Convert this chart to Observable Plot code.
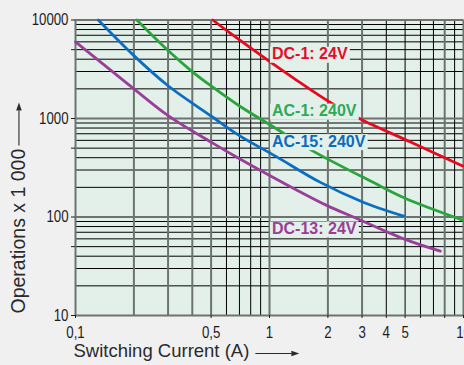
<!DOCTYPE html>
<html><head><meta charset="utf-8">
<script src="https://cdn.jsdelivr.net/npm/d3@7"></script>
<script src="https://cdn.jsdelivr.net/npm/@observablehq/plot@0.6"></script>
<style>
html,body{margin:0;padding:0;background:#f0f0f0;overflow:hidden;}
</style></head><body><div id="chart"></div>
<script>
// Axis ticks and grid values
const xTicks = [0.1, 0.5, 1, 2, 3, 4, 5, 6, 8, 10];
const yTicks = [10, 50, 100, 500, 1000, 5000, 10000];
const xGridMajor = [0.1, 0.2, 0.3, 0.4, 0.5, 1, 2, 3, 8, 10];
const xGridMinor = [0.6, 0.7, 0.8, 0.9, 4, 5, 6, 7, 9];
const yGridMajor = [10, 100, 1000, 10000];
const yGridMinor = [20, 30, 40, 50, 60, 70, 80, 90, 200, 300, 400, 500, 600, 700, 800, 900,
                    2000, 3000, 4000, 5000, 6000, 7000, 8000, 9000];

// Series
const seriesNames = ["DC-1: 24V", "AC-1: 240V", "AC-15: 240V", "DC-13: 24V"];
const lineColors = ["#e8081f", "#2aa43c", "#0a6ec2", "#9a3f98"];
const labelColors = ["#e30d2a", "#2ea95a", "#0b6cbd", "#9a3d96"];

const dc1Current = [0.51, 0.63, 1, 1.4, 2.1, 2.9, 5.3, 9.9];
const dc1Ops     = [10000, 7300, 3800, 2400, 1420, 1000, 580, 330];
const ac1Current = [0.207, 0.3, 0.395, 0.5, 0.7, 1.04, 1.65, 3.4, 5, 9.9];
const ac1Ops     = [10000, 4900, 3050, 2140, 1340, 830, 475, 226, 155, 93];
const ac15Current = [0.131, 0.2, 0.3, 0.5, 0.7, 1.09, 1.82, 3, 4.92];
const ac15Ops     = [10000, 4350, 2150, 1060, 670, 408, 226, 143, 102];
const dc13Current = [0.1, 0.2, 0.3, 0.5, 0.7, 1.13, 1.96, 2.8, 4.92, 7.6];
const dc13Ops     = [6000, 2000, 1070, 575, 390, 232, 132, 97, 60, 45];

const labelCurrent = [1.03, 1.03, 1.03, 1.03];
const labelOps = [4500, 1190, 584, 76];

const xTitle = "Switching Current (A)";
const yTitle = "Operations x 1 000";

const currents = [dc1Current, ac1Current, ac15Current, dc13Current];
const ops = [dc1Ops, ac1Ops, ac15Ops, dc13Ops];

const bg = "#e3f0e9";
const sans = "'Liberation Sans', Arial, sans-serif";

const lineMarks = currents.map((xs, i) =>
  Plot.line(xs.map((x, j) => ({x, y: ops[i][j]})), {
    x: "x", y: "y", stroke: lineColors[i], strokeWidth: 2.8, curve: "catmull-rom"
  })
);

const labels = seriesNames.map((name, i) => ({name, x: labelCurrent[i], y: labelOps[i], c: labelColors[i]}));

const plot = Plot.plot({
  width: 464,
  height: 365,
  marginLeft: 75,
  marginRight: 1,
  marginTop: 19.5,
  marginBottom: 50,
  style: {background: "#f0f0f0", fontFamily: sans, fontSize: "16px", color: "#1e1e1e"},
  x: {type: "log", domain: [0.1, 10]},
  y: {type: "log", domain: [10, 10000]},
  color: {type: "identity"},
  marks: [
    Plot.frame({fill: bg, stroke: null}),
    Plot.ruleX(xGridMinor, {stroke: "#000", strokeWidth: 1}),
    Plot.ruleY(yGridMinor, {stroke: "#000", strokeWidth: 1}),
    Plot.ruleX(xGridMajor, {stroke: "#6d7470", strokeWidth: 2}),
    Plot.ruleY(yGridMajor, {stroke: "#6d7470", strokeWidth: 2}),
    ...lineMarks,
    Plot.text(labels, {
      x: "x", y: "y", text: "name", fill: "c", textAnchor: "start", lineAnchor: "middle",
      fontFamily: sans, fontWeight: "bold", fontSize: 16
    }),
    Plot.axisY({ticks: yTicks, tickFormat: d => String(d), tickSize: 4, tickPadding: 3,
      label: null, color: "#1e1e1e", fontSize: 17}),
    Plot.axisX({ticks: xTicks, tickFormat: d => String(d).replace(".", ","), tickSize: 3, tickPadding: 7,
      label: null, color: "#1e1e1e", fontSize: 17}),
    Plot.text([yTitle], {frameAnchor: "bottom-left", text: d => d, rotate: -90, textAnchor: "start",
      lineAnchor: "middle", dx: -57, dy: -2, fontFamily: sans, fontSize: 19.5, fill: "#2a2a2a"}),
    Plot.text([xTitle], {frameAnchor: "bottom-left", text: d => d, textAnchor: "start",
      lineAnchor: "middle", dx: -2, dy: 36, fontFamily: sans, fontSize: 18.5, fill: "#2a2a2a"})
  ]
});
document.getElementById("chart").appendChild(plot);

const textGroups = plot.querySelectorAll('g[aria-label="text"]');

// Label background boxes
d3.select(textGroups[0]).selectAll('text').each(function () {
  const bb = this.getBBox();
  const r = document.createElementNS("http://www.w3.org/2000/svg", "rect");
  r.setAttribute("x", bb.x - 2);
  r.setAttribute("y", bb.y + 1.5);
  r.setAttribute("width", bb.width + 4);
  r.setAttribute("height", bb.height - 1);
  r.setAttribute("fill", bg);
  const t = this.getAttribute("transform");
  if (t) r.setAttribute("transform", t);
  this.parentNode.insertBefore(r, this);
});

// Condense tick labels (narrow face look)
d3.select(plot).selectAll('g[aria-label="y-axis tick label"] text, g[aria-label="x-axis tick label"] text')
  .each(function () {
    const t = this.getAttribute("transform") || "";
    this.setAttribute("transform", t + " scale(0.78,1)");
  });

// Arrows after axis titles
const svgRect = plot.getBoundingClientRect();
function arrow(x1, y1, x2, y2) {
  const g = d3.select(plot).append("g").attr("fill", "#2a2a2a").attr("stroke", "#2a2a2a");
  const ang = Math.atan2(y2 - y1, x2 - x1);
  const hl = 8, hw = 2.8;
  const bx = x2 - hl * Math.cos(ang), by = y2 - hl * Math.sin(ang);
  g.append("line").attr("x1", x1).attr("y1", y1).attr("x2", bx).attr("y2", by).attr("stroke-width", 1.1);
  g.append("path").attr("stroke", "none").attr("d",
    `M${x2},${y2}L${bx - hw * Math.sin(ang)},${by + hw * Math.cos(ang)}L${bx + hw * Math.sin(ang)},${by - hw * Math.cos(ang)}Z`);
}
{
  const t = textGroups[1].querySelector("text");
  const r = t.getBoundingClientRect();
  const fs = 19.5;
  const x = r.right - svgRect.left - 0.212 * fs - 0.29 * fs;
  const top = r.top - svgRect.top;
  arrow(x, top - 3, x, top - 46);
}
{
  const t = textGroups[2].querySelector("text");
  const r = t.getBoundingClientRect();
  const fs = 18.5;
  const y = r.bottom - svgRect.top - 0.212 * fs - 0.22 * fs;
  const right = r.right - svgRect.left;
  arrow(right + 6, y, right + 50, y);
}
</script></body></html>
